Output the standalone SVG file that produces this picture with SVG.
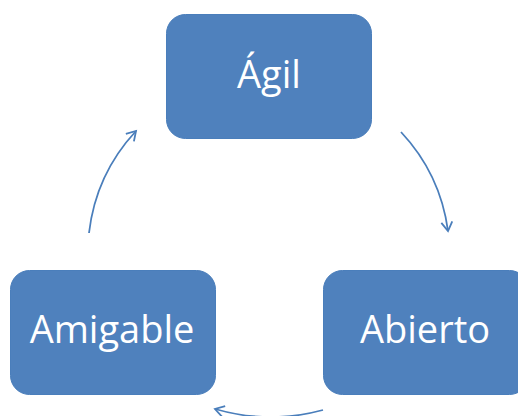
<svg xmlns="http://www.w3.org/2000/svg" width="518" height="416" viewBox="0 0 518 416">
<style>
.box{fill:#4F81BD;stroke:#4A7EBB;stroke-width:1}
.lbl{font-family:"Open Sans","Liberation Sans",sans-serif;font-size:38px;fill:#FFFFFF;text-anchor:middle}
.arc{fill:none;stroke:#4A7EBB;stroke-width:1.8}
</style>
<defs>
<marker id="ah" markerWidth="14" markerHeight="14" refX="10" refY="6" orient="auto" markerUnits="userSpaceOnUse">
<path d="M1,0.5 L10,6 L1,11.5" fill="none" stroke="#4A7EBB" stroke-width="1.8"/>
</marker>
</defs>
<rect width="518" height="416" fill="#FFFFFF"/>
<g id="connectors">
<path class="arc" d="M401,132 A180 180 0 0 1 448,231" marker-end="url(#ah)"/>
<path class="arc" d="M323,410 A200 200 0 0 1 215,409" marker-end="url(#ah)"/>
<path class="arc" d="M89,233 A180 180 0 0 1 136,131" marker-end="url(#ah)"/>
</g>
<g id="node-agil">
<rect class="box" x="166.5" y="14.5" width="205" height="124" rx="19"/>
<text class="lbl" x="269" y="88">Ágil</text>
</g>
<g id="node-amigable">
<rect class="box" x="10.5" y="270.5" width="205" height="124" rx="19"/>
<text class="lbl" x="112" y="343">Amigable</text>
</g>
<g id="node-abierto">
<rect class="box" x="323.5" y="270.5" width="205" height="124" rx="19"/>
<text class="lbl" x="425" y="343">Abierto</text>
</g>
</svg>
